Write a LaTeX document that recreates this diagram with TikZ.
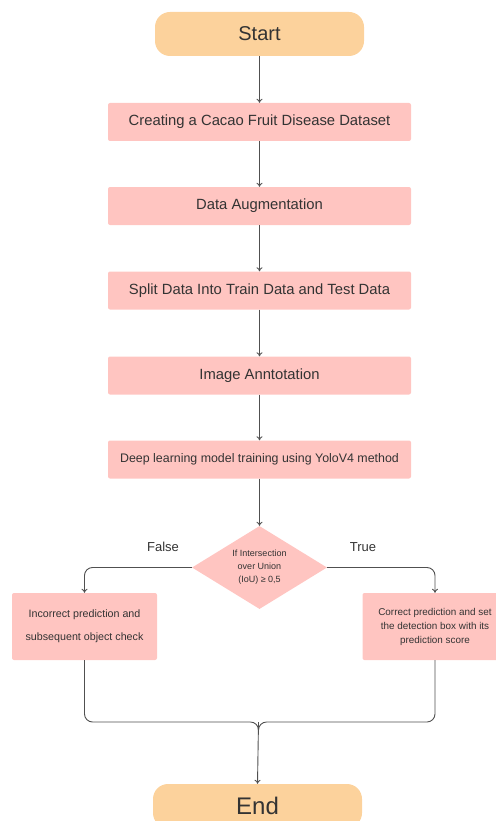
\documentclass[tikz,border=0pt]{standalone}
\usepackage{fontspec}
\setmainfont{Liberation Sans}
\usetikzlibrary{shapes.geometric,arrows.meta}

\definecolor{light-orange}{RGB}{252, 210, 156}
\definecolor{light-pink}{RGB}{255, 197, 193}
\definecolor{dark-text}{RGB}{51, 51, 51}
\definecolor{dark-line}{RGB}{80, 80, 80}

\begin{document}
\begin{tikzpicture}[
        x=1pt, y=1pt,
        every node/.style={align=center, text=dark-text, inner sep=0pt},
        terminal/.style={rectangle, rounded corners=15pt, fill=light-orange, minimum width=209pt, minimum height=44pt},
        stepbox/.style={rectangle, rounded corners=2pt, fill=light-pink, minimum width=303pt, minimum height=38pt, font=\fontsize{14.8}{17}\selectfont},
        sidebox/.style={rectangle, rounded corners=2pt, fill=light-pink, minimum width=145pt, minimum height=67pt},
        decision/.style={diamond, fill=light-pink, aspect=1.63, minimum width=135pt, minimum height=83pt, font=\fontsize{9}{13}\selectfont},
        flow/.style={draw=dark-line, line width=0.9pt, -{To[length=4pt, width=6pt]}},
        mergeline/.style={draw=dark-line, line width=0.9pt, rounded corners=8pt},
    ]
    \useasboundingbox (0,0) rectangle (495,-821);

    \node[terminal, font=\fontsize{20}{24}\selectfont] (start) at (259.5,-34) {Start};
    \node[stepbox] (dataset) at (259.5,-122) {Creating a Cacao Fruit Disease Dataset};
    \node[stepbox] (augment) at (259.5,-206) {Data Augmentation};
    \node[stepbox] (split) at (259.5,-290.5) {Split Data Into Train Data and Test Data};
    \node[stepbox] (annot) at (259.5,-375.5) {Image Anntotation};
    \node[stepbox, font=\fontsize{12.4}{15}\selectfont] (train) at (259.5,-459.5) {Deep learning model training using YoloV4 method};
    \node[decision] (iou) at (259.5,-567.5) {If Intersection\\over Union\\(IoU) ≥ 0,5};
    \node[sidebox, font=\fontsize{10.7}{23}\selectfont] (wrong) at (84.5,-626.5) {Incorrect prediction and\\subsequent object check};
    \node[sidebox, font=\fontsize{9.9}{14}\selectfont] (right) at (435,-626.5) {Correct prediction and set\\the detection box with its\\prediction score};
    \node[terminal, font=\fontsize{24}{28}\selectfont] (stop) at (257.5,-806) {End};

    \node[font=\fontsize{13}{15}\selectfont] (false) at (163,-547) {False};
    \node[font=\fontsize{13}{15}\selectfont] (true) at (363,-547) {True};

    \coordinate (merge) at (258.5,-722);

    \draw[flow] (start) -- (dataset);
    \draw[flow] (dataset) -- (augment);
    \draw[flow] (augment) -- (split);
    \draw[flow] (split) -- (annot);
    \draw[flow] (annot) -- (train);
    \draw[flow] (train) -- (iou);
    \draw[flow, rounded corners=8pt] (iou.west) -| (wrong.north);
    \draw[flow, rounded corners=8pt] (iou.east) -| (right.north);
    \draw[mergeline] (wrong.south) |- (merge) -- ++(0,-12);
    \draw[mergeline] (right.south) |- (merge) -- ++(0,-12);
    \draw[flow] (merge) -- (stop.north);
\end{tikzpicture}
\end{document}
